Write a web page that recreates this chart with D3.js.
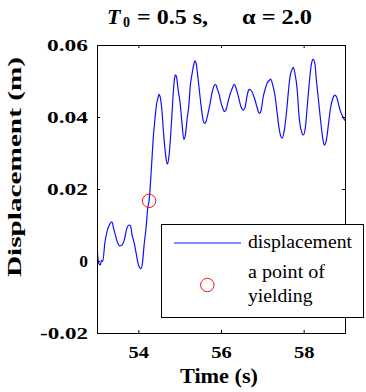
<!DOCTYPE html>
<html>
<head>
<meta charset="utf-8">
<script src="https://cdn.jsdelivr.net/npm/d3@7"></script>
<style>
  body { margin: 0; background: #fff; }
</style>
</head>
<body>
<svg id="chart" width="366" height="392"></svg>
<script>
// Displacement response, T0 = 0.5 s, alpha = 2.0
const time = [
  53.00, 53.02, 53.05, 53.08, 53.11, 53.14, 53.19, 53.24, 53.28, 53.33,
  53.36, 53.40, 53.45, 53.50, 53.55, 53.60, 53.66, 53.72, 53.78, 53.81,
  53.85, 53.90, 53.95, 54.00, 54.06, 54.10, 54.14, 54.19, 54.23, 54.26,
  54.29, 54.32, 54.36, 54.40, 54.44, 54.48, 54.50, 54.53, 54.57, 54.61,
  54.66, 54.70, 54.74, 54.78, 54.81, 54.85, 54.88, 54.90, 54.93, 54.96,
  55.01, 55.06, 55.10, 55.14, 55.18, 55.22, 55.26, 55.30, 55.34, 55.37,
  55.40, 55.44, 55.48, 55.53, 55.57, 55.60, 55.64, 55.69, 55.74, 55.78,
  55.83, 55.87, 55.91, 55.95, 56.00, 56.04, 56.08, 56.12, 56.18, 56.24,
  56.29, 56.32, 56.36, 56.42, 56.48, 56.54, 56.58, 56.63, 56.67, 56.70,
  56.75, 56.81, 56.86, 56.93, 56.97, 57.02, 57.07, 57.12, 57.17, 57.20,
  57.25, 57.31, 57.36, 57.41, 57.48, 57.53, 57.59, 57.63, 57.67, 57.72,
  57.75, 57.79, 57.84, 57.89, 57.95, 57.99, 58.04, 58.08, 58.12, 58.19,
  58.23, 58.27, 58.31, 58.36, 58.41, 58.46, 58.50, 58.54, 58.60, 58.65,
  58.70, 58.76, 58.80, 58.84, 58.88, 58.93, 58.97, 59.00
];
const displacement = [
  0.0054, 0.0010, -0.0008, -0.0011, 0.0002, -0.0001, 0.0050, 0.0080, 0.0095, 0.0106,
  0.0109, 0.0092, 0.0070, 0.0050, 0.0042, 0.0044, 0.0058, 0.0090, 0.0100, 0.0098,
  0.0072, 0.0050, 0.0020, -0.0010, -0.0021, -0.0005, 0.0045, 0.0095, 0.0150, 0.0167,
  0.0210, 0.0265, 0.0340, 0.0392, 0.0435, 0.0455, 0.0463, 0.0455, 0.0419, 0.0356,
  0.0295, 0.0269, 0.0290, 0.0345, 0.0401, 0.0475, 0.0510, 0.0517, 0.0508, 0.0478,
  0.0440, 0.0378, 0.0338, 0.0352, 0.0395, 0.0430, 0.0490, 0.0520, 0.0545, 0.0556,
  0.0548, 0.0512, 0.0470, 0.0420, 0.0390, 0.0382, 0.0388, 0.0412, 0.0440, 0.0466,
  0.0486, 0.0491, 0.0478, 0.0465, 0.0440, 0.0425, 0.0415, 0.0420, 0.0447, 0.0470,
  0.0485, 0.0491, 0.0482, 0.0457, 0.0430, 0.0419, 0.0426, 0.0458, 0.0475, 0.0477,
  0.0470, 0.0452, 0.0432, 0.0410, 0.0418, 0.0455, 0.0478, 0.0495, 0.0502, 0.0505,
  0.0490, 0.0457, 0.0410, 0.0365, 0.0341, 0.0362, 0.0420, 0.0470, 0.0512, 0.0532,
  0.0538, 0.0520, 0.0480, 0.0400, 0.0358, 0.0350, 0.0370, 0.0420, 0.0475, 0.0549,
  0.0560, 0.0548, 0.0500, 0.0445, 0.0390, 0.0342, 0.0322, 0.0330, 0.0380, 0.0425,
  0.0450, 0.0461, 0.0455, 0.0438, 0.0419, 0.0405, 0.0396, 0.0390
];
// Point of yielding
const yieldTime = [54.26];
const yieldDisp = [0.0167];

const xTicks = [54, 56, 58];
const xTickLabels = ["54", "56", "58"];
const yTicks = [-0.02, 0, 0.02, 0.04, 0.06];
const yTickLabels = ["-0.02", "0", "0.02", "0.04", "0.06"];
const legendLabels = ["displacement", "a point of", "yielding"];

const SERIF = "'Liberation Serif', 'Times New Roman', Times, serif";

const svg = d3.select("#chart");
const box = { left: 97, right: 345, top: 45, bottom: 333 };

const x = d3.scaleLinear().domain([53, 59]).range([box.left, box.right]);
const y = d3.scaleLinear().domain([-0.02, 0.06]).range([box.bottom, box.top]);

svg.append("defs").append("clipPath").attr("id", "plot-clip")
  .append("rect")
  .attr("x", box.left).attr("y", box.top)
  .attr("width", box.right - box.left).attr("height", box.bottom - box.top);

// Displacement curve
const series = time.map((t, i) => ({ t, v: displacement[i] }));
svg.append("path")
  .datum(series)
  .attr("clip-path", "url(#plot-clip)")
  .attr("fill", "none")
  .attr("stroke", "#1010ff")
  .attr("stroke-width", 1.2)
  .attr("d", d3.line().x(d => x(d.t)).y(d => y(d.v)).curve(d3.curveMonotoneX));

// Yield point marker
svg.selectAll("circle.yield")
  .data(yieldTime.map((t, i) => ({ t, v: yieldDisp[i] })))
  .join("circle")
  .attr("class", "yield")
  .attr("cx", d => x(d.t)).attr("cy", d => y(d.v)).attr("r", 6.7)
  .attr("fill", "none").attr("stroke", "#ff1010").attr("stroke-width", 1);

// Axes with inward ticks on all four sides
const tickLen = 3;
const bottomAxis = svg.append("g").attr("transform", `translate(0,${box.bottom})`)
  .call(d3.axisBottom(x).tickValues(xTicks).tickFormat((d, i) => xTickLabels[i])
    .tickSizeInner(-tickLen).tickSizeOuter(0));
const topAxis = svg.append("g").attr("transform", `translate(0,${box.top})`)
  .call(d3.axisTop(x).tickValues(xTicks).tickFormat("").tickSizeInner(-tickLen).tickSizeOuter(0));
const leftAxis = svg.append("g").attr("transform", `translate(${box.left},0)`)
  .call(d3.axisLeft(y).tickValues(yTicks).tickFormat((d, i) => yTickLabels[i])
    .tickSizeInner(-tickLen).tickSizeOuter(0));
const rightAxis = svg.append("g").attr("transform", `translate(${box.right},0)`)
  .call(d3.axisRight(y).tickValues(yTicks).tickFormat("").tickSizeInner(-tickLen).tickSizeOuter(0));

[bottomAxis, topAxis, leftAxis, rightAxis].forEach(g => {
  g.attr("font-family", SERIF);
  g.select(".domain").remove();
  g.selectAll(".tick line").attr("stroke", "#000");
});

bottomAxis.selectAll(".tick text")
  .attr("y", 25).attr("dy", null)
  .attr("fill", "#000")
  .attr("font-family", SERIF)
  .attr("font-size", 17.5).attr("font-weight", "bold")
  .attr("textLength", 20.5).attr("lengthAdjust", "spacingAndGlyphs");

leftAxis.selectAll(".tick text")
  .attr("x", -9).attr("dy", "0.33em")
  .attr("fill", "#000")
  .attr("font-family", SERIF)
  .attr("font-size", 17.5).attr("font-weight", "bold")
  .each(function (d, i) {
    const s = yTickLabels[i];
    if (s.length > 1) {
      d3.select(this).attr("textLength", s.length === 5 ? 48 : 41)
        .attr("lengthAdjust", "spacingAndGlyphs");
    }
  });

// Axes box
svg.append("rect")
  .attr("x", box.left).attr("y", box.top)
  .attr("width", box.right - box.left).attr("height", box.bottom - box.top)
  .attr("fill", "none").attr("stroke", "#000").attr("stroke-width", 1)
  .attr("shape-rendering", "crispEdges");

// Axis titles
svg.append("text")
  .attr("x", (box.left + box.right) / 2 - 2).attr("y", 383)
  .attr("text-anchor", "middle")
  .attr("font-family", SERIF)
  .attr("font-size", 20).attr("font-weight", "bold")
  .attr("textLength", 78).attr("lengthAdjust", "spacingAndGlyphs")
  .text("Time (s)");

svg.append("text")
  .attr("transform", "translate(21,167) rotate(-90)")
  .attr("text-anchor", "middle")
  .attr("font-family", SERIF)
  .attr("font-size", 18.5).attr("font-weight", "bold")
  .attr("textLength", 220).attr("lengthAdjust", "spacingAndGlyphs")
  .text("Displacement (m)");

// Title
const title = svg.append("g")
  .attr("font-family", SERIF).attr("font-weight", "bold");
title.append("text").attr("x", 107).attr("y", 24)
  .attr("font-size", 22).attr("font-style", "italic").text("T");
title.append("text").attr("x", 123).attr("y", 27)
  .attr("font-size", 14).text("0");
title.append("text").attr("x", 137).attr("y", 24)
  .attr("font-size", 22)
  .attr("textLength", 71).attr("lengthAdjust", "spacingAndGlyphs")
  .text("= 0.5 s,");
title.append("text").attr("x", 242).attr("y", 24)
  .attr("font-size", 22)
  .attr("textLength", 70).attr("lengthAdjust", "spacingAndGlyphs")
  .text("\u03b1 = 2.0");

// Legend
const legend = svg.append("g");
legend.append("rect")
  .attr("x", 161).attr("y", 224).attr("width", 202).attr("height", 93)
  .attr("fill", "#fff").attr("stroke", "#000").attr("stroke-width", 1)
  .attr("shape-rendering", "crispEdges");
legend.append("line")
  .attr("x1", 174).attr("x2", 241).attr("y1", 243).attr("y2", 243)
  .attr("stroke", "#1010ff").attr("stroke-width", 1.2);
legend.append("circle")
  .attr("cx", 207.3).attr("cy", 285).attr("r", 6.7)
  .attr("fill", "none").attr("stroke", "#ff1010").attr("stroke-width", 1);
const legendText = [
  { s: legendLabels[0], y: 248.3, w: 104 },
  { s: legendLabels[1], y: 278.3, w: 77 },
  { s: legendLabels[2], y: 302, w: 64.5 }
];
legend.selectAll("text.entry").data(legendText).join("text")
  .attr("class", "entry")
  .attr("x", 248).attr("y", d => d.y)
  .attr("font-family", SERIF)
  .attr("font-size", 18)
  .attr("fill", "#000")
  .attr("textLength", d => d.w).attr("lengthAdjust", "spacingAndGlyphs")
  .text(d => d.s);
</script>
</body>
</html>
